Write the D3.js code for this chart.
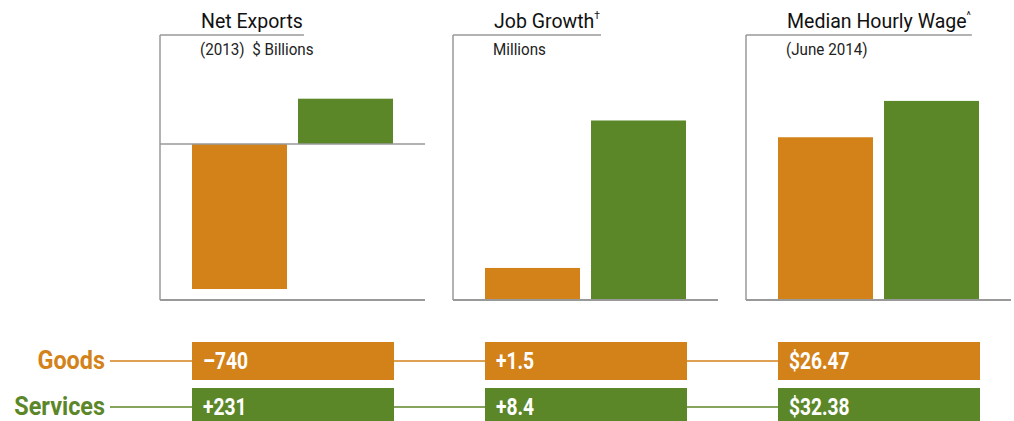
<!DOCTYPE html>
<html>
<head>
<meta charset="utf-8">
<script src="https://cdn.jsdelivr.net/npm/d3@7"></script>
<style>
  body { margin: 0; background: #fff; }
  text { font-family: Roboto, "Noto Sans", sans-serif; }
</style>
</head>
<body>
<svg width="1014" height="421"></svg>
<script>
// panel titles, marks and subtitles
const panels = ['Net Exports', 'Job Growth', 'Median Hourly Wage']
const marks = ['', '\u2020', '^']
const subtitles = ['(2013)  $ Billions', 'Millions', '(June 2014)']
const series = ['Goods', 'Services']
const goods = [-740, 1.5, 26.47]
const services = [231, 8.4, 32.38]
const goodsLabels = ['\u2013740', '+1.5', '$26.47']
const servicesLabels = ['+231', '+8.4', '$32.38']
const domains = [[-796, 556], [0, 12.4], [0, 43.1]]

const orange = '#d3821a', green = '#5c8729', axisGrey = '#999'
const colors = { Goods: orange, Services: green }

let svg = d3.select('svg')
let plotTop = 35, plotBottom = 300, panelW = 265

let xPanel = d3.scalePoint().domain(panels).range([160, 746])
let xBar = d3.scaleBand().domain(series).range([32, 233]).paddingInner(0.104)

// condensed text: squeeze Roboto horizontally
function narrowText(sel, x, y, sx) {
  return sel.append('text')
    .attr('transform', 'translate(' + x + ',' + y + ') scale(' + sx + ',1)')
}

panels.forEach(function (p, i) {
  let g = svg.append('g').attr('transform', 'translate(' + xPanel(p) + ',0)')
  let y = d3.scaleLinear().domain(domains[i]).range([plotBottom, plotTop])

  // title + superscript mark
  let sxT = 0.93
  let t = narrowText(g, 41, 28, sxT)
    .attr('font-size', 21).attr('fill', '#111')
    .text(p)
  if (marks[i]) {
    t.append('tspan').attr('font-size', 11).attr('dy', -9).text(marks[i])
  }
  let tw = t.node().getComputedTextLength() * sxT

  narrowText(g, 40, 55, 0.95)
    .attr('font-size', 16).attr('fill', '#222')
    .style('white-space', 'pre')
    .text(subtitles[i])

  // frame lines
  g.append('line').attr('x1', 0).attr('x2', 41 + tw + 1).attr('y1', plotTop).attr('y2', plotTop)
    .attr('stroke', axisGrey).attr('stroke-width', 1.5)
  g.append('line').attr('x1', 0).attr('x2', 0).attr('y1', plotTop).attr('y2', plotBottom)
    .attr('stroke', axisGrey).attr('stroke-width', 1.5)

  let vals = [goods[i], services[i]]
  g.selectAll('.bar')
    .data(series)
    .enter()
    .append('rect')
    .attr('class', 'bar')
    .attr('x', d => xBar(d))
    .attr('width', xBar.bandwidth())
    .attr('y', (d, j) => y(Math.max(0, vals[j])))
    .attr('height', (d, j) => Math.abs(y(vals[j]) - y(0)))
    .attr('fill', d => colors[d])

  g.append('line').attr('x1', 0).attr('x2', panelW).attr('y1', plotBottom).attr('y2', plotBottom)
    .attr('stroke', axisGrey).attr('stroke-width', 2)
  if (domains[i][0] < 0) {
    g.append('line').attr('x1', 0).attr('x2', panelW).attr('y1', y(0)).attr('y2', y(0))
      .attr('stroke', axisGrey).attr('stroke-width', 1.5)
  }
})

// value rows
let rows = [
  { name: 'Goods', y: 342, labels: goodsLabels },
  { name: 'Services', y: 388, labels: servicesLabels }
]
let boxH = 38
rows.forEach(function (r) {
  let c = colors[r.name]
  svg.append('line')
    .attr('x1', 110).attr('x2', xPanel(panels[2]) + 32)
    .attr('y1', r.y + boxH / 2).attr('y2', r.y + boxH / 2)
    .attr('stroke', c).attr('stroke-width', 1.5)
  narrowText(svg, 105, r.y + 27, 0.9)
    .attr('text-anchor', 'end')
    .attr('font-size', 26).attr('font-weight', 'bold')
    .attr('fill', c)
    .text(r.name)
  panels.forEach(function (p, i) {
    let x0 = xPanel(p) + 32
    svg.append('rect')
      .attr('x', x0).attr('y', r.y)
      .attr('width', 202).attr('height', boxH)
      .attr('fill', c)
    narrowText(svg, x0 + 11, r.y + 27, 0.8)
      .attr('font-size', 24).attr('font-weight', 'bold')
      .attr('fill', '#fff')
      .text(r.labels[i])
  })
})
</script>
</body>
</html>
